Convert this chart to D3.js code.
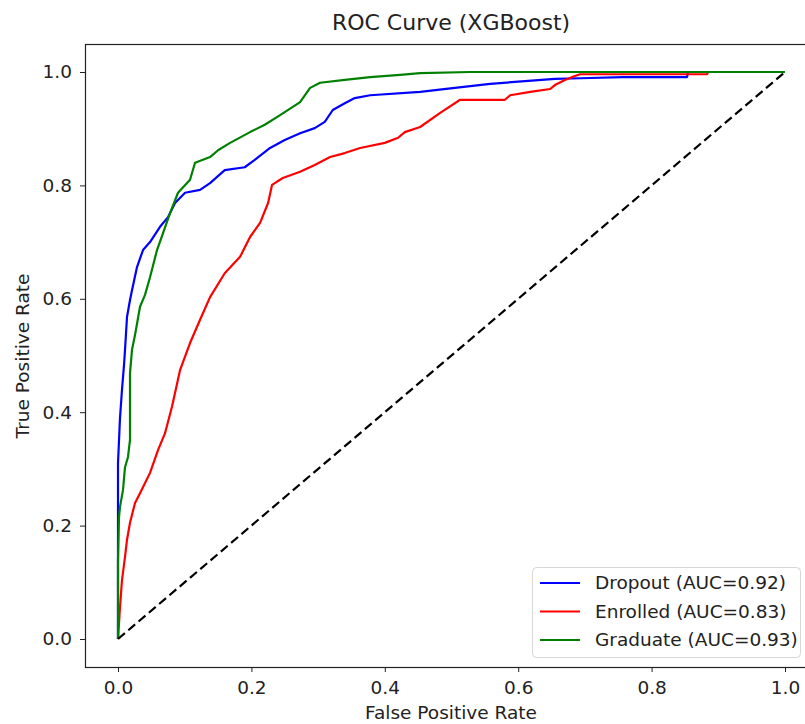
<!DOCTYPE html>
<html>
<head>
<meta charset="utf-8">
<script src="https://cdn.jsdelivr.net/npm/d3@7"></script>
<style>
    body { margin: 0; background: #fff; }
    text { font-family: "DejaVu Sans", sans-serif; fill: #222; }
</style>
</head>
<body>
<div id="roc"></div>
<script>
// ROC points (fpr, tpr)
const dropoutFpr = [0, 0, 0, 0, 0.0015, 0.003, 0.006, 0.009, 0.0105, 0.0135, 0.018, 0.021, 0.0285, 0.0375, 0.048, 0.063, 0.075, 0.0855, 0.1005, 0.123, 0.138, 0.160, 0.190, 0.205, 0.228, 0.250, 0.273, 0.295, 0.310, 0.322, 0.340, 0.355, 0.378, 0.453, 0.505, 0.558, 0.610, 0.655, 0.693, 0.757, 0.853, 0.855, 1];
const dropoutTpr = [0, 0.069, 0.175, 0.31, 0.35, 0.39, 0.44, 0.483, 0.51, 0.568, 0.598, 0.615, 0.656, 0.686, 0.70, 0.727, 0.744, 0.769, 0.787, 0.792, 0.804, 0.827, 0.832, 0.845, 0.866, 0.880, 0.892, 0.901, 0.912, 0.933, 0.945, 0.954, 0.959, 0.965, 0.972, 0.979, 0.984, 0.988, 0.989, 0.991, 0.991, 1, 1];

const enrolledFpr = [0, 0.0015, 0.003, 0.006, 0.0105, 0.0135, 0.018, 0.0255, 0.033, 0.048, 0.060, 0.0705, 0.081, 0.093, 0.108, 0.123, 0.138, 0.160, 0.183, 0.198, 0.213, 0.225, 0.231, 0.247, 0.273, 0.295, 0.318, 0.340, 0.363, 0.400, 0.420, 0.430, 0.453, 0.483, 0.513, 0.580, 0.588, 0.618, 0.648, 0.655, 0.670, 0.685, 0.693, 0.883, 0.885, 1];
const enrolledTpr = [0, 0.028, 0.056, 0.104, 0.145, 0.175, 0.205, 0.24, 0.257, 0.293, 0.333, 0.363, 0.41, 0.474, 0.522, 0.563, 0.603, 0.645, 0.674, 0.709, 0.734, 0.769, 0.801, 0.813, 0.824, 0.836, 0.850, 0.857, 0.866, 0.875, 0.884, 0.894, 0.903, 0.928, 0.951, 0.951, 0.959, 0.965, 0.970, 0.977, 0.986, 0.993, 0.996, 0.996, 1, 1];

const graduateFpr = [0, 0, 0.0015, 0.003, 0.0075, 0.0105, 0.015, 0.018, 0.018, 0.021, 0.0255, 0.033, 0.0405, 0.048, 0.0585, 0.0675, 0.078, 0.090, 0.108, 0.1155, 0.138, 0.150, 0.168, 0.198, 0.220, 0.243, 0.273, 0.288, 0.303, 0.340, 0.378, 0.423, 0.453, 0.528, 1];
const graduateTpr = [0, 0.139, 0.215, 0.233, 0.263, 0.303, 0.321, 0.351, 0.469, 0.51, 0.536, 0.586, 0.607, 0.638, 0.686, 0.716, 0.751, 0.787, 0.810, 0.840, 0.850, 0.862, 0.875, 0.894, 0.907, 0.924, 0.947, 0.972, 0.981, 0.986, 0.991, 0.995, 0.998, 1, 1];

const classNames = ["Dropout", "Enrolled", "Graduate"];
const aucValues = [0.92, 0.83, 0.93];
const ticks = [0, 0.2, 0.4, 0.6, 0.8, 1.0];

const width = 805, height = 724;
const fontSize = 18.5;

// axes frame (matplotlib-style 5% margins around [0,1])
const frame = { left: 85, top: 44, right: 818, bottom: 667 };

const svg = d3.select('#roc')
    .append('svg')
    .attr('width', width)
    .attr('height', height);

const x = d3.scaleLinear().domain([0, 1]).range([118, 785]);
const y = d3.scaleLinear().domain([0, 1]).range([639, 72]);

const colors = ["#0000ff", "#ff0000", "#008000"];

const series = [
    { name: classNames[0], auc: aucValues[0], pts: dropoutFpr.map((f, i) => [f, dropoutTpr[i]]) },
    { name: classNames[1], auc: aucValues[1], pts: enrolledFpr.map((f, i) => [f, enrolledTpr[i]]) },
    { name: classNames[2], auc: aucValues[2], pts: graduateFpr.map((f, i) => [f, graduateTpr[i]]) }
];

// clip to the axes area
svg.append('clipPath').attr('id', 'clip')
    .append('rect')
    .attr('x', frame.left).attr('y', frame.top)
    .attr('width', frame.right - frame.left)
    .attr('height', frame.bottom - frame.top);

const plot = svg.append('g').attr('clip-path', 'url(#clip)');

const line = d3.line()
    .x(d => x(d[0]))
    .y(d => y(d[1]));

series.forEach((s, i) => {
    plot.append('path')
        .datum(s.pts)
        .attr('fill', 'none')
        .attr('stroke', colors[i])
        .attr('stroke-width', 2.2)
        .attr('stroke-linejoin', 'round')
        .attr('d', line);
});

// chance line
plot.append('path')
    .datum([[0, 0], [1, 1]])
    .attr('fill', 'none')
    .attr('stroke', '#000')
    .attr('stroke-width', 2.2)
    .attr('stroke-dasharray', '9,4.5')
    .attr('d', line);

// spines
svg.append('rect')
    .attr('x', frame.left + 0.5)
    .attr('y', frame.top + 0.5)
    .attr('width', frame.right - frame.left)
    .attr('height', frame.bottom - frame.top)
    .attr('fill', 'none')
    .attr('stroke', '#222')
    .attr('stroke-width', 1.2);

// axes
const xAxis = svg.append('g')
    .attr('transform', `translate(0,${frame.bottom})`)
    .call(d3.axisBottom(x).tickValues(ticks).tickFormat(d3.format('.1f')).tickSize(5).tickPadding(9));

const yAxis = svg.append('g')
    .attr('transform', `translate(${frame.left},0)`)
    .call(d3.axisLeft(y).tickValues(ticks).tickFormat(d3.format('.1f')).tickSize(5).tickPadding(8));

[xAxis, yAxis].forEach(ax => {
    ax.select('.domain').remove();
    ax.selectAll('.tick line').attr('stroke', '#222');
    ax.selectAll('.tick text')
        .attr('font-family', '"DejaVu Sans", sans-serif')
        .attr('font-size', fontSize)
        .attr('fill', '#222');
});

// title
svg.append('text')
    .attr('x', 451)
    .attr('y', 30)
    .attr('text-anchor', 'middle')
    .attr('font-size', 22)
    .text('ROC Curve (XGBoost)');

// x-axis label
svg.append('text')
    .attr('x', 451)
    .attr('y', 719)
    .attr('text-anchor', 'middle')
    .attr('font-size', fontSize)
    .text('False Positive Rate');

// y-axis label
svg.append('text')
    .attr('transform', 'translate(29,356) rotate(-90)')
    .attr('text-anchor', 'middle')
    .attr('font-size', fontSize)
    .text('True Positive Rate');

// legend
const legend = svg.append('g').attr('transform', 'translate(532,567)');

legend.append('rect')
    .attr('x', 0.5).attr('y', 0.5)
    .attr('width', 268).attr('height', 90)
    .attr('rx', 4)
    .attr('fill', 'rgba(255,255,255,0.85)')
    .attr('stroke', '#d6d6d6');

series.forEach((s, i) => {
    legend.append('line')
        .attr('x1', 8).attr('x2', 48)
        .attr('y1', 16 + i * 28.5).attr('y2', 16 + i * 28.5)
        .attr('stroke', colors[i])
        .attr('stroke-width', 2.2);

    legend.append('text')
        .attr('x', 63)
        .attr('y', 16 + i * 28.5)
        .attr('dy', '0.35em')
        .attr('font-size', fontSize)
        .text(`${s.name} (AUC=${s.auc.toFixed(2)})`);
});
</script>
</body>
</html>
